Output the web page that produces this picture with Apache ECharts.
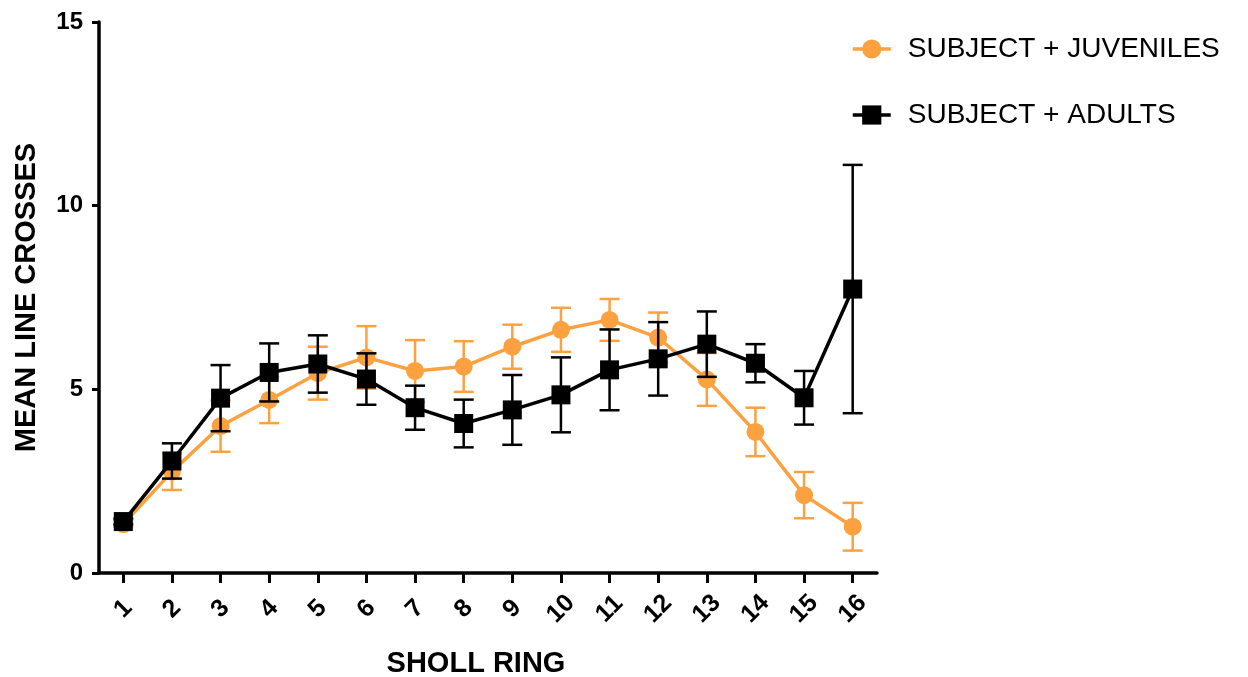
<!DOCTYPE html>
<html>
<head>
<meta charset="utf-8">
<script src="https://cdn.jsdelivr.net/npm/echarts@6/dist/echarts.min.js"></script>
<style>
  html, body { margin: 0; padding: 0; background: #fff; }
  #chart { width: 1248px; height: 677px; }
</style>
</head>
<body>
<div id="chart"></div>
<script>
// Sholl ring categories
const rings = ['1','2','3','4','5','6','7','8','9','10','11','12','13','14','15','16'];

// Mean line crosses and error (half-length) per ring
const juvenileMean = [1.33, 2.76, 4.00, 4.71, 5.44, 5.87, 5.50, 5.62, 6.16, 6.62, 6.89, 6.41, 5.27, 3.84, 2.12, 1.26];
const juvenileErr  = [0.08, 0.50, 0.70, 0.63, 0.72, 0.85, 0.84, 0.69, 0.60, 0.60, 0.57, 0.68, 0.72, 0.66, 0.63, 0.65];
const adultMean    = [1.40, 3.05, 4.76, 5.46, 5.69, 5.28, 4.50, 4.07, 4.44, 4.85, 5.53, 5.83, 6.23, 5.71, 4.77, 7.73];
const adultErr     = [0.08, 0.48, 0.90, 0.79, 0.78, 0.70, 0.60, 0.65, 0.95, 1.02, 1.10, 1.00, 0.89, 0.52, 0.73, 3.38];

const yTicks = { min: 0, max: 15, interval: 5 };

const ORANGE = '#FBA140';
const BLACK = '#000000';
const FONT = "'Liberation Sans', Arial, sans-serif";

function errorData(mean, err) {
  return mean.map((m, i) => [i, m - err[i], m + err[i]]);
}

function errorRenderer(color) {
  return function (params, api) {
    const lo = api.coord([api.value(0), api.value(1)]);
    const hi = api.coord([api.value(0), api.value(2)]);
    const half = 10;
    const style = { stroke: color, lineWidth: 2.5, fill: null };
    return {
      type: 'group',
      children: [
        { type: 'line', shape: { x1: hi[0], y1: hi[1], x2: lo[0], y2: lo[1] }, style },
        { type: 'line', shape: { x1: hi[0] - half, y1: hi[1], x2: hi[0] + half, y2: hi[1] }, style },
        { type: 'line', shape: { x1: lo[0] - half, y1: lo[1], x2: lo[0] + half, y2: lo[1] }, style }
      ]
    };
  };
}

const chart = echarts.init(document.getElementById('chart'), null, { renderer: 'canvas' });

chart.setOption({
  backgroundColor: '#ffffff',
  animation: false,
  textStyle: { fontFamily: FONT },
  grid: { left: 99, right: 371, top: 22, bottom: 104, containLabel: false, outerBoundsMode: 'none' },
  legend: {
    orient: 'vertical',
    left: 846,
    top: 30,
    itemWidth: 38,
    itemHeight: 24,
    itemGap: 38,
    lineStyle: { width: 3.5 },
    textStyle: { fontFamily: FONT, fontSize: 28, color: '#000', padding: [0, 0, 0, 12] },
    data: ['SUBJECT + JUVENILES', 'SUBJECT + ADULTS']
  },
  xAxis: {
    type: 'category',
    data: rings,
    boundaryGap: true,
    name: 'SHOLL RING',
    nameLocation: 'middle',
    nameGap: 76,
    nameTextStyle: { fontFamily: FONT, fontSize: 29, fontWeight: 'bold', color: '#000', padding: [0, 24, 0, 0] },
    axisLine: { lineStyle: { color: '#000', width: 3.5 } },
    axisTick: { show: true, alignWithLabel: true, length: 10, lineStyle: { color: '#000', width: 3 } },
    axisLabel: {
      rotate: 45,
      align: 'center',
      verticalAlign: 'middle',
      margin: 36,
      fontFamily: FONT,
      fontSize: 25,
      fontWeight: 'bold',
      color: '#000'
    },
    splitLine: { show: false }
  },
  yAxis: {
    type: 'value',
    min: yTicks.min,
    max: yTicks.max,
    interval: yTicks.interval,
    name: 'MEAN LINE CROSSES',
    nameLocation: 'middle',
    nameGap: 58,
    nameTextStyle: { fontFamily: FONT, fontSize: 29, fontWeight: 'bold', color: '#000' },
    axisLine: { show: true, lineStyle: { color: '#000', width: 3.5 } },
    axisTick: { show: true, length: 7, lineStyle: { color: '#000', width: 3 } },
    axisLabel: { margin: 16, fontFamily: FONT, fontSize: 24, fontWeight: 'bold', color: '#000' },
    splitLine: { show: false }
  },
  series: [
    {
      name: 'juvenile-error',
      type: 'custom',
      renderItem: errorRenderer(ORANGE),
      data: errorData(juvenileMean, juvenileErr),
      encode: { x: 0, y: [1, 2] },
      z: 1,
      silent: true
    },
    {
      name: 'SUBJECT + JUVENILES',
      type: 'line',
      data: juvenileMean,
      symbol: 'circle',
      symbolSize: 18,
      lineStyle: { color: ORANGE, width: 3.5 },
      itemStyle: { color: ORANGE },
      z: 2
    },
    {
      name: 'adult-error',
      type: 'custom',
      renderItem: errorRenderer(BLACK),
      data: errorData(adultMean, adultErr),
      encode: { x: 0, y: [1, 2] },
      z: 3,
      silent: true
    },
    {
      name: 'SUBJECT + ADULTS',
      type: 'line',
      data: adultMean,
      symbol: 'rect',
      symbolSize: 19,
      lineStyle: { color: BLACK, width: 3.5 },
      itemStyle: { color: BLACK },
      z: 4
    }
  ]
});
</script>
</body>
</html>
